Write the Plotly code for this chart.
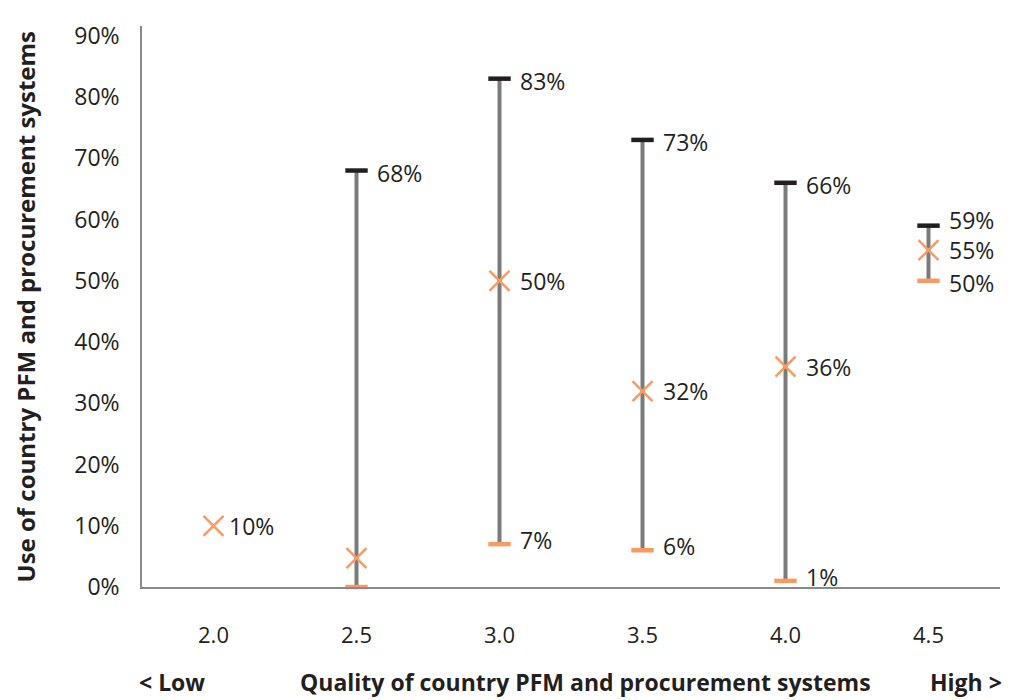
import plotly.graph_objects as go

# ---- data ----
quality = [2.0, 2.5, 3.0, 3.5, 4.0, 4.5]
tick_labels = ["2.0", "2.5", "3.0", "3.5", "4.0", "4.5"]
max_use = [None, 68, 83, 73, 66, 59]
min_use = [None, 0, 7, 6, 1, 50]
median_use = [10, 4.7, 50, 32, 36, 55]
max_labels = ["", "68%", "83%", "73%", "66%", "59%"]
min_labels = ["", "", "7%", "6%", "1%", "50%"]
median_labels = ["10%", "", "50%", "32%", "36%", "55%"]

GRAY = "#7b7b7b"
ORANGE = "#f89a64"
DARK = "#231f20"
FONT = "Open Sans"
LBL = 23

fig = go.Figure()

# vertical range lines
lx, ly = [], []
for q, lo, hi in zip(quality, min_use, max_use):
    if lo is None:
        continue
    lx += [q, q, None]
    ly += [lo, hi, None]
fig.add_trace(go.Scatter(x=lx, y=ly, mode="lines", line=dict(color=GRAY, width=4),
                         hoverinfo="skip", cliponaxis=False))

# caps
rx = [q for q, v in zip(quality, max_use) if v is not None]
fig.add_trace(go.Scatter(x=rx, y=[v for v in max_use if v is not None], mode="markers",
                         marker=dict(symbol="line-ew", size=16, line=dict(color=DARK, width=4.5)),
                         cliponaxis=False))
fig.add_trace(go.Scatter(x=rx, y=[v for v in min_use if v is not None], mode="markers",
                         marker=dict(symbol="line-ew", size=16, line=dict(color=ORANGE, width=4.5)),
                         cliponaxis=False))
# medians
fig.add_trace(go.Scatter(x=quality, y=median_use, mode="markers",
                         marker=dict(symbol="x-thin", size=20, line=dict(color=ORANGE, width=2.5)),
                         cliponaxis=False))

# value labels
def add_label(q, v, txt, shift=19, yshift=0):
    fig.add_annotation(x=q, y=v, text=txt, showarrow=False, xanchor="left", yanchor="middle",
                       xshift=shift, yshift=yshift, borderpad=0,
                       font=dict(family=FONT, size=LBL, color=DARK))

for q, hi, lo, md, hl, ll, ml in zip(quality, max_use, min_use, median_use,
                                     max_labels, min_labels, median_labels):
    close = hi is not None and (hi - lo) < 15
    if hl:
        add_label(q, hi, hl, yshift=6 if close else -2)
    if ll:
        add_label(q, lo, ll, yshift=-2 if close else 4)
    if ml:
        add_label(q, md, ml, shift=14 if hi is None else 19)

fig.add_annotation(xref="paper", yref="paper", x=(25 - 142) / 858, y=0.5, textangle=-90,
                   text="<b>Use of country PFM and procurement systems</b>", showarrow=False,
                   xanchor="center", yanchor="middle",
                   font=dict(family=FONT, size=24, color=DARK))
for txt, px in [("<b>&lt; Low</b>", 172), ("<b>Quality of country PFM and procurement systems</b>", 585),
                ("<b>High &gt;</b>", 966)]:
    fig.add_annotation(xref="paper", yref="paper", x=(px - 142) / 858, y=(587 - 683) / 564,
                       text=txt, showarrow=False, xanchor="center", yanchor="middle", borderpad=0,
                       font=dict(family=FONT, size=23, color=DARK))

# page body has an 8px margin, so the figure is offset by 8px
fig.update_layout(
    width=1003, height=692, showlegend=False,
    paper_bgcolor="white", plot_bgcolor="white",
    margin=dict(l=134, r=11, t=15, b=113),
    font=dict(family=FONT, size=20, color=DARK),
    xaxis=dict(range=[1.75, 4.75], tickvals=quality, ticktext=tick_labels, showgrid=False,
               zeroline=False, showline=True, linecolor="#8a8a8a", linewidth=1.5, ticks="",
               ticklabelstandoff=28, tickfont=dict(size=22)),
    yaxis=dict(range=[0, 91.6], dtick=10, ticksuffix="%", showgrid=False, zeroline=False,
               showline=True, linecolor="#8a8a8a", linewidth=1.5, ticks="",
               ticklabelstandoff=16, tickfont=dict(size=23)),
)

fig.write_html("out.html")
